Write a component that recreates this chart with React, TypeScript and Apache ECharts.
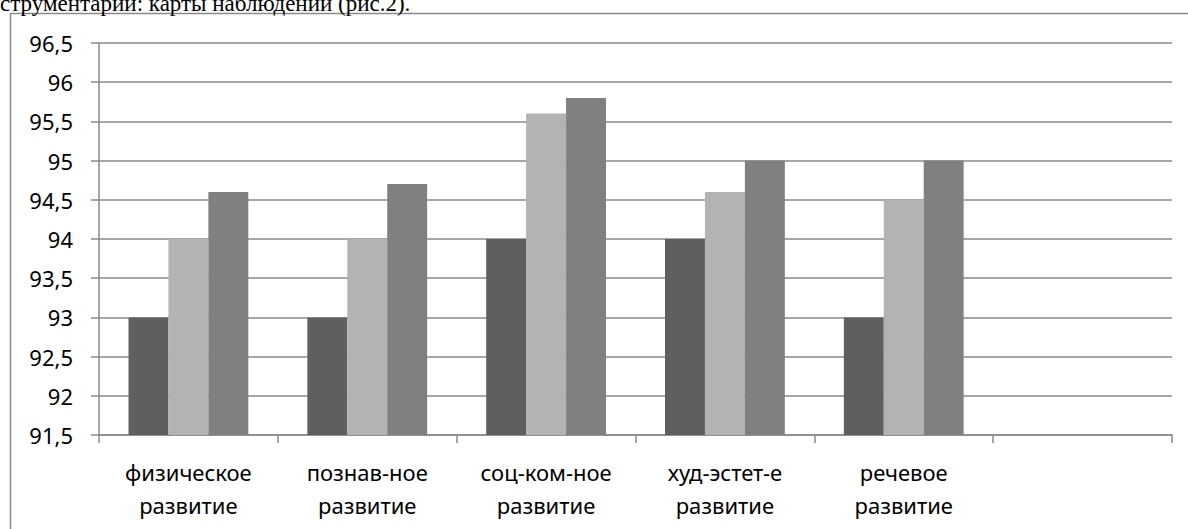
import React, { useEffect, useRef } from "react";
import * as echarts from "echarts";

const categories = [
  "физическое\nразвитие",
  "познав-ное\nразвитие",
  "соц-ком-ное\nразвитие",
  "худ-эстет-е\nразвитие",
  "речевое\nразвитие",
  "",
];
const series1 = [93, 93, 94, 94, 93, null];
const series2 = [94, 94, 95.6, 94.6, 94.5, null];
const series3 = [94.6, 94.7, 95.8, 95, 95, null];
const seriesNames = ["Ряд 1", "Ряд 2", "Ряд 3"];
const seriesColors = ["#5f5f5f", "#b3b3b3", "#808080"];
const captionText = "струментарии: карты наблюдений (рис.2).";

export default function App() {
  const ref = useRef<HTMLDivElement>(null);
  useEffect(() => {
    document.body.style.margin = "0";
    const chart = echarts.init(ref.current!, null, { renderer: "svg" });
    const lineColor = "#8a8a8a";
    const font = "'Noto Sans', sans-serif";
    chart.setOption({
      animation: false,
      backgroundColor: "#ffffff",
      graphic: [
        {
          type: "rect",
          shape: { x: 10.5, y: 13.5, width: 1190, height: 600 },
          style: { fill: "none", stroke: lineColor, lineWidth: 1.5 },
          z: 0,
        },
        {
          type: "text",
          x: 0,
          y: 15,
          style: {
            text: captionText,
            font: "23px 'Liberation Serif', serif",
            fill: "#000",
            verticalAlign: "bottom",
            align: "left",
          },
        },
      ],
      grid: { left: 99, right: 16, top: 43, bottom: 94 },
      xAxis: {
        type: "category",
        data: categories,
        axisLine: { lineStyle: { color: lineColor, width: 1.5 } },
        axisTick: { show: true, length: 8, lineStyle: { color: lineColor, width: 1.5 } },
        axisLabel: {
          color: "#000",
          fontFamily: font,
          fontSize: 22,
          lineHeight: 33,
          margin: 20,
          interval: 0,
        },
      },
      yAxis: {
        type: "value",
        min: 91.5,
        max: 96.5,
        interval: 0.5,
        axisLine: { show: true, lineStyle: { color: lineColor, width: 1.5 } },
        axisTick: { show: true, length: 8, lineStyle: { color: lineColor, width: 1.5 } },
        splitLine: { lineStyle: { color: lineColor, width: 1.5 } },
        axisLabel: {
          color: "#000",
          fontFamily: font,
          fontSize: 22,
          margin: 26,
          formatter: (v: number) => String(v).replace(".", ","),
        },
      },
      series: [series1, series2, series3].map((d, i) => ({
        type: "bar",
        name: seriesNames[i],
        data: d,
        barGap: "0%",
        barCategoryGap: "33%",
        itemStyle: { color: seriesColors[i] },
      })),
    });
    return () => chart.dispose();
  }, []);
  return (
    <div
      ref={ref}
      style={{ position: "fixed", left: 0, top: 0, width: 1188, height: 529 }}
    />
  );
}
